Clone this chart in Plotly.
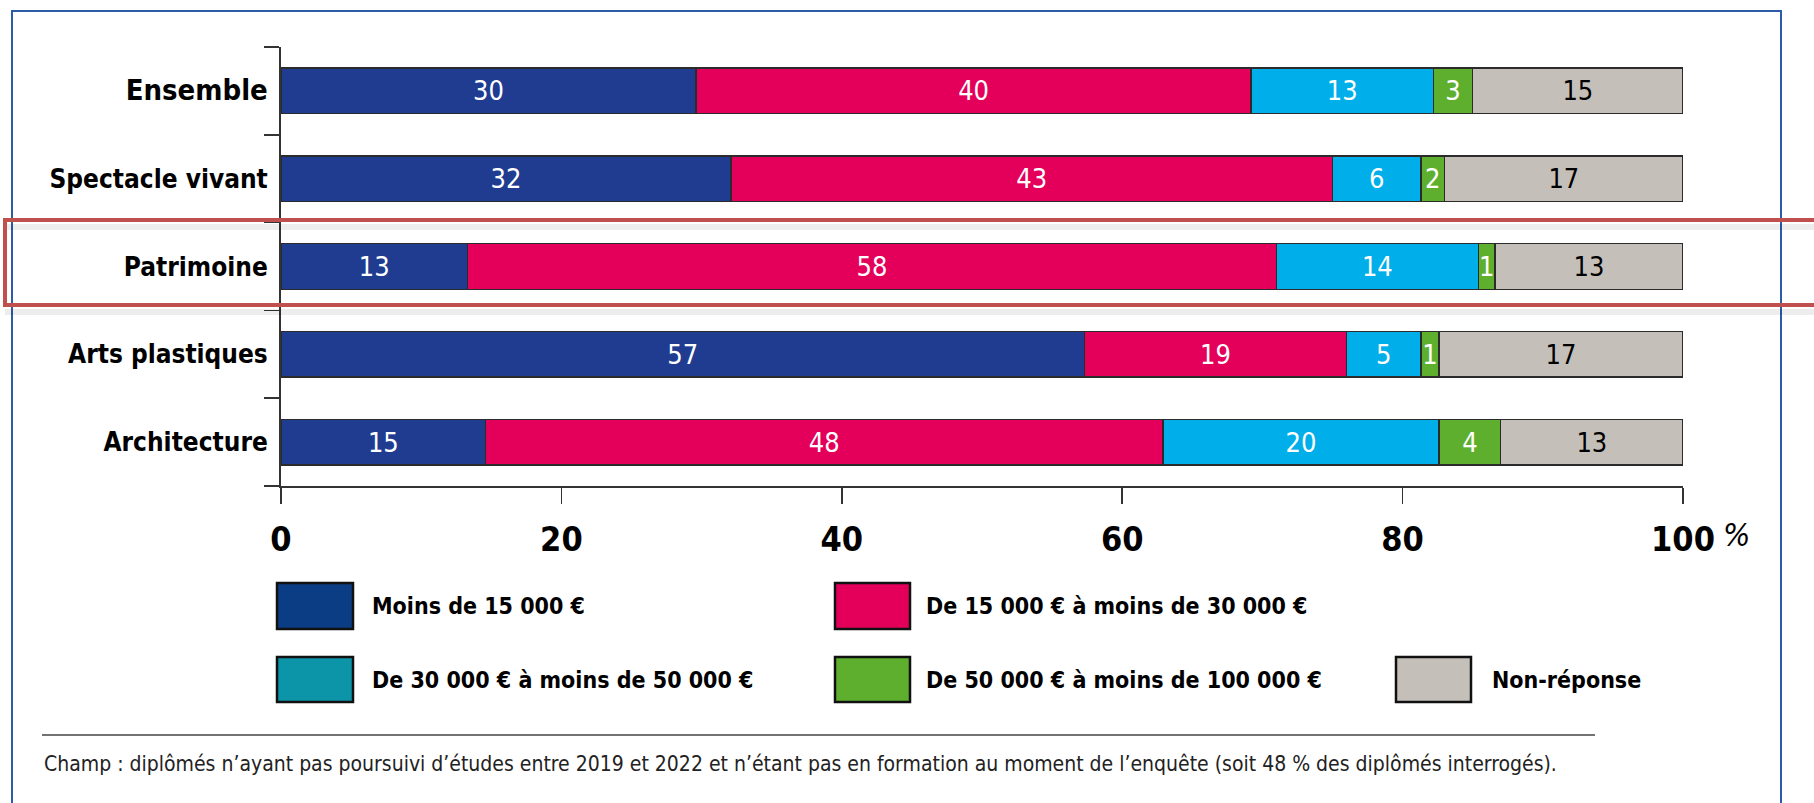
import plotly.graph_objects as go

# ---------------- data ----------------
categories = ["Ensemble", "Spectacle vivant", "Patrimoine", "Arts plastiques", "Architecture"]
series_names = [
    "Moins de 15 000 €",
    "De 15 000 € à moins de 30 000 €",
    "De 30 000 € à moins de 50 000 €",
    "De 50 000 € à moins de 100 000 €",
    "Non-réponse",
]
moins_15k = [29.6, 32.1, 13.3, 57.3, 14.6]
de_15k_30k = [39.6, 42.9, 57.7, 18.7, 48.3]
de_30k_50k = [13.0, 6.3, 14.4, 5.3, 19.7]
de_50k_100k = [2.8, 1.7, 1.2, 1.3, 4.4]
non_reponse = [15.0, 17.0, 13.4, 17.4, 13.0]
x_tickvals = [0, 20, 40, 60, 80, 100]
x_ticktext = ["0", "20", "40", "60", "80", "100"]
footnote = ("Champ : diplômés n’ayant pas poursuivi d’études entre 2019 et 2022 et n’étant pas "
            "en formation au moment de l’enquête (soit 48 % des diplômés interrogés).")

# ---------------- style ----------------
W, H = 1814, 803
L, R, T, B = 281, 1683, 47, 486
FONT = "DejaVu Sans Condensed, Liberation Sans Narrow, sans-serif"
bar_colors = ["#1F3C91", "#E4005A", "#00AEEA", "#5FAF2E", "#C5BFB9"]
legend_colors = ["#0B3D85", "#E4005A", "#0C94A8", "#5FAF2E", "#C5BFB9"]
text_colors = ["white", "white", "white", "white", "black"]


def px(x):
    return (x - L) / (R - L)


def py(y):
    return (B - y) / (B - T)


fig = go.Figure()
all_series = [moins_15k, de_15k_30k, de_30k_50k, de_50k_100k, non_reponse]
for name, vals, col, tcol in zip(series_names, all_series, bar_colors, text_colors):
    fig.add_trace(go.Bar(
        y=categories, x=vals, name=name, orientation="h",
        marker=dict(color=col, line=dict(color="#2b2b2b", width=1.5)),
        texttemplate="%{x:.0f}", textposition="inside", insidetextanchor="middle",
        textangle=0, constraintext="none",
        textfont=dict(family=FONT, size=27, color=tcol),
        showlegend=False, hoverinfo="skip",
    ))

ytext = ['<span style="font-size:29px">Ensemble</span>'] + categories[1:]

fig.update_layout(
    width=W, height=H, barmode="stack", bargap=0.48,
    margin=dict(l=L, r=W - R, t=T, b=H - B, pad=0, autoexpand=False),
    paper_bgcolor="white", plot_bgcolor="white",
    uniformtext=dict(minsize=27, mode="show"),
    font=dict(family=FONT, color="black"),
    xaxis=dict(
        range=[0, 100], tickvals=x_tickvals, ticktext=x_ticktext, automargin=False,
        showgrid=False, zeroline=False, showline=True, linecolor="#333", linewidth=2,
        ticks="outside", ticklen=16, tickwidth=1.5, tickcolor="#333",
        tickfont=dict(family=FONT, size=34, color="black", weight="bold"),
        ticklabelstandoff=6, fixedrange=True,
    ),
    yaxis=dict(
        type="category", categoryorder="array", categoryarray=categories,
        tickvals=categories, ticktext=ytext, automargin=False,
        autorange="reversed", showgrid=False, zeroline=False,
        showline=True, linecolor="#333", linewidth=2,
        ticks="outside", tickson="boundaries", ticklen=15, tickwidth=1.5, tickcolor="#333",
        tickfont=dict(family=FONT, size=26, color="black", weight="bold"),
        ticklabelstandoff=6, fixedrange=True,
    ),
)

shapes = []
annotations = []

# "%" after 100
annotations.append(dict(x=px(1721), y=py(535), xref="paper", yref="paper", text="<i>%</i>",
                        showarrow=False, xanchor="left", yanchor="middle",
                        font=dict(family=FONT, size=32, color="black")))

# manual legend
legend_layout = [
    (0, 277, 353, 583, 629, 370),
    (1, 835, 910, 583, 629, 924),
    (2, 277, 353, 657, 702, 370),
    (3, 835, 910, 657, 702, 924),
    (4, 1396, 1471, 657, 702, 1490),
]
for i, x0, x1, y0, y1, tx in legend_layout:
    shapes.append(dict(type="rect", xref="paper", yref="paper",
                       x0=px(x0), x1=px(x1), y0=py(y1), y1=py(y0),
                       fillcolor=legend_colors[i], line=dict(color="#111", width=2.5)))
    annotations.append(dict(x=px(tx), y=py((y0 + y1) / 2), xref="paper", yref="paper",
                            text=series_names[i], showarrow=False, xanchor="left", yanchor="middle",
                            font=dict(family=FONT, size=23, color="black", weight="bold")))

# footnote rule and text
shapes.append(dict(type="line", xref="paper", yref="paper", x0=px(42), x1=px(1595),
                   y0=py(735), y1=py(735), line=dict(color="#444", width=1.5)))
annotations.append(dict(x=px(42), y=py(764), xref="paper", yref="paper", text=footnote,
                        showarrow=False, xanchor="left", yanchor="middle",
                        font=dict(family=FONT, size=21, color="#222")))

# outer blue frame
shapes.append(dict(type="rect", xref="paper", yref="paper", x0=px(12), x1=px(1781),
                   y0=py(830), y1=py(11), line=dict(color="#2A5CA8", width=2), layer="below"))

# red highlight frame with soft shadow
for yy in (224, 309):
    shapes.append(dict(type="line", xref="paper", yref="paper", x0=px(5), x1=px(1830),
                       y0=py(yy + 3), y1=py(yy + 3), line=dict(color="rgba(0,0,0,0.07)", width=6)))
shapes.append(dict(type="rect", xref="paper", yref="paper", x0=px(5), x1=px(1830),
                   y0=py(305), y1=py(220), line=dict(color="#C0504D", width=4)))

fig.update_layout(shapes=shapes, annotations=annotations)
fig.write_html(
    "out.html",
    config={"displayModeBar": False, "staticPlot": True},
    post_script="document.body.style.margin='0'; document.body.style.overflow='hidden';",
)
